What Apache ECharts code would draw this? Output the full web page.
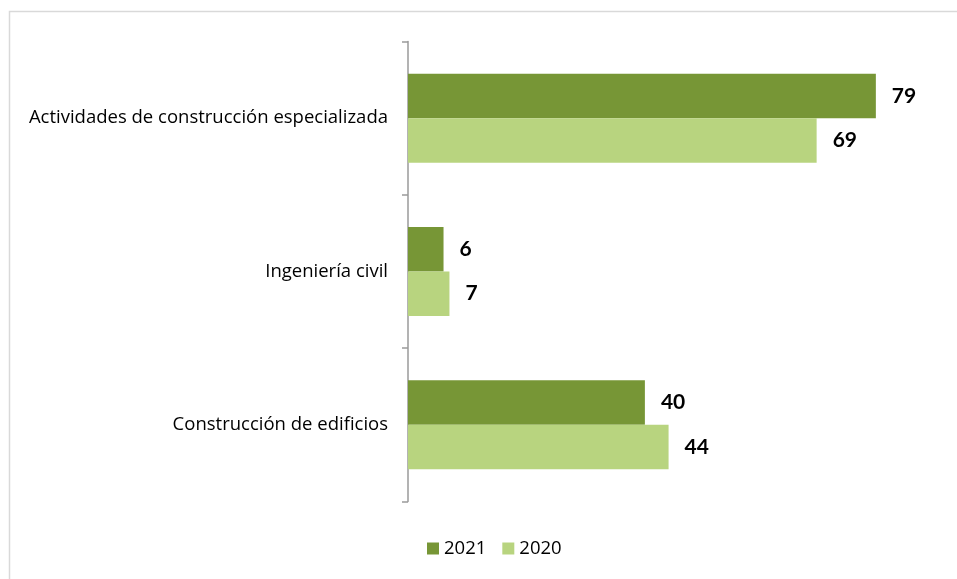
<!DOCTYPE html>
<html>
<head>
<meta charset="utf-8">
<script src="https://cdn.jsdelivr.net/npm/echarts@6/dist/echarts.min.js"></script>
<style>
  html, body { margin: 0; padding: 0; background: #fff; }
  #main { width: 957px; height: 579px; }
</style>
</head>
<body>
<div id="main"></div>
<script>
  // categories, bottom to top (echarts puts the first one at the bottom)
  const categories = [
    "Construcción de edificios",
    "Ingeniería civil",
    "Actividades de construcción especializada",
  ];
  const seriesNames = ["2021", "2020"];
  const values2021 = [40, 6, 79];
  const values2020 = [44, 7, 69];
  const colors = ["#779636", "#b8d47f"];

  var chartDom = document.getElementById("main");
  var myChart = echarts.init(chartDom);
  var option;

  const fontName = "Open Sans";

  const labelStyle = {
    show: true,
    position: "right",
    distance: 16,
    color: "#000",
    fontWeight: "bold",
    fontSize: 21,
    fontFamily: "Lato",
  };

  option = {
    animation: false,
    backgroundColor: "#fff",
    graphic: [
      {
        type: "rect",
        shape: { x: 9.5, y: 11.5, width: 1000, height: 1000 },
        style: { fill: null, stroke: "#d9d9d9", lineWidth: 1.5 },
        silent: true,
      },
    ],
    grid: {
      left: 408,
      top: 41.5,
      height: 460,
      width: 533,
    },
    legend: {
      data: seriesNames,
      bottom: 16,
      left: 422,
      itemWidth: 12,
      itemHeight: 12,
      itemGap: 16,
      icon: "rect",
      textStyle: {
        fontSize: 18.5,
        fontFamily: fontName,
        color: "#000",
      },
    },
    xAxis: {
      type: "value",
      min: 0,
      max: 90,
      show: false,
    },
    yAxis: {
      type: "category",
      data: categories,
      axisLine: { show: true, lineStyle: { color: "#9a9a9a", width: 1.5 } },
      axisTick: { show: true, length: 6, lineStyle: { color: "#9a9a9a", width: 1.5 } },
      axisLabel: {
        margin: 20,
        fontSize: 18.5,
        fontFamily: fontName,
        color: "#000",
      },
      splitLine: { show: false },
    },
    series: [
      {
        name: seriesNames[0],
        type: "bar",
        data: values2021,
        barGap: "0%",
        barCategoryGap: "42%",
        itemStyle: { color: colors[0] },
        label: labelStyle,
      },
      {
        name: seriesNames[1],
        type: "bar",
        data: values2020,
        barGap: "0%",
        barCategoryGap: "42%",
        itemStyle: { color: colors[1] },
        label: labelStyle,
      },
    ],
  };

  option && myChart.setOption(option);
</script>
</body>
</html>
